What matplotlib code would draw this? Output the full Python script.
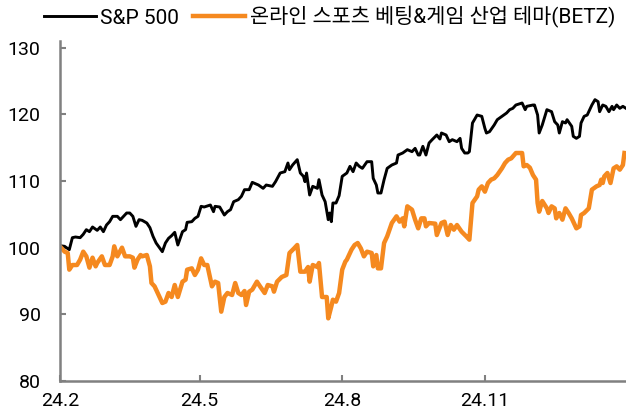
import datetime as dt
import matplotlib
matplotlib.use("Agg")
import matplotlib.pyplot as plt

# Index levels (start = 100), sampled by day offset from 2024-02-01
start = dt.date(2024, 2, 1)

sp_days = [0, 3, 6, 8, 10, 13, 15, 17, 19, 21, 24, 26, 28, 30, 32, 34, 37, 39, 41, 43,
           45, 47, 49, 51, 53, 56, 58, 60, 62, 66, 68, 70, 72, 74, 76, 79, 81, 82, 85, 87,
           89, 91, 93, 97, 99, 100, 103, 106, 108, 110, 112, 115, 117, 119, 122, 124, 128, 131, 133, 137,
           139, 142, 145, 147, 148, 150, 153, 155, 157, 158, 159, 161, 163, 166, 167, 169, 171, 173, 174, 175,
           176, 178, 180, 182, 185, 187, 189, 191, 193, 195, 198, 201, 202, 204, 205, 207, 209, 211, 214, 217,
           218, 221, 224, 227, 229, 231, 232, 234, 236, 238, 240, 243, 245, 246, 249, 251, 253, 256, 258, 259,
           261, 263, 264, 266, 269, 272, 274, 275, 277, 280, 282, 285, 288, 290, 292, 294, 298, 300, 301, 305,
           306, 308, 309, 311, 314, 317, 319, 321, 322, 324, 326, 327, 330, 331, 333, 335, 336, 338, 340, 343,
           345, 347, 348, 350, 352, 354, 356, 357, 359, 361, 363, 365]
sp500 = [100.3, 100.2, 99.7, 101.5, 101.6, 101.5, 102.0, 102.7, 102.4, 103.1, 102.6, 103.1, 102.4, 103.4, 103.9, 104.7, 104.7, 104.2, 104.7, 105.2,
         105.2, 104.7, 103.2, 104.2, 104.1, 103.7, 103.0, 101.7, 100.7, 99.4, 100.7, 101.4, 101.8, 102.3, 100.4, 102.4, 102.7, 103.8, 103.9, 104.4,
         104.7, 106.2, 106.1, 106.4, 105.4, 106.2, 106.1, 104.9, 105.4, 105.7, 106.9, 107.2, 107.7, 108.7, 108.7, 109.8, 109.4, 108.9, 109.4, 109.2,
         109.9, 111.2, 111.4, 112.7, 111.7, 112.4, 113.2, 111.2, 110.7, 109.9, 111.2, 107.9, 109.2, 108.9, 110.2, 107.9, 106.9, 104.2, 105.2, 103.9,
         106.7, 106.7, 107.8, 110.7, 111.2, 112.2, 111.4, 112.7, 112.2, 111.9, 112.9, 112.9, 110.4, 109.4, 108.2, 108.2, 110.2, 111.9, 112.4, 112.7,
         113.9, 114.2, 114.7, 114.4, 114.9, 113.9, 113.9, 115.2, 113.9, 115.7, 116.2, 116.9, 116.3, 117.2, 116.9, 115.9, 116.2, 115.9, 116.4, 114.9,
         114.2, 114.2, 114.4, 118.7, 119.9, 119.7, 117.9, 117.2, 117.4, 118.4, 119.2, 119.7, 120.2, 120.7, 120.9, 121.4, 121.7, 120.7, 121.2, 121.4,
         121.4, 119.9, 117.2, 118.4, 120.7, 120.4, 118.9, 118.4, 117.2, 118.9, 118.7, 119.2, 118.2, 116.7, 116.4, 116.7, 118.7, 119.7, 119.9, 121.4,
         122.2, 121.9, 120.4, 121.4, 121.2, 120.4, 121.2, 120.7, 121.4, 120.9, 121.2, 120.9]

betz_days = [0, 3, 5, 6, 8, 11, 13, 15, 17, 19, 21, 23, 24, 27, 29, 32, 34, 35, 37, 40,
             42, 45, 47, 48, 50, 52, 53, 56, 58, 59, 61, 62, 66, 68, 70, 72, 74, 76, 79, 81,
             82, 85, 87, 89, 91, 93, 95, 98, 100, 102, 104, 106, 108, 111, 113, 115, 117, 119, 120, 122,
             124, 127, 129, 132, 134, 137, 138, 140, 143, 146, 148, 151, 153, 155, 158, 160, 161, 163, 166, 167,
             169, 172, 173, 175, 176, 178, 180, 182, 184, 185, 188, 190, 192, 194, 196, 198, 201, 202, 204, 205,
             207, 209, 211, 214, 217, 219, 221, 222, 224, 227, 229, 231, 233, 235, 236, 238, 242, 243, 246, 248,
             250, 252, 254, 256, 259, 262, 264, 266, 269, 270, 272, 274, 276, 278, 280, 282, 285, 287, 289, 291,
             294, 298, 299, 301, 303, 305, 307, 308, 309, 311, 314, 315, 317, 319, 320, 322, 324, 326, 328, 330,
             333, 335, 336, 338, 341, 343, 346, 348, 349, 350, 351, 353, 355, 357, 359, 361, 363, 364]
betz = [100.2, 99.4, 99.2, 96.7, 97.4, 97.4, 98.2, 99.4, 98.7, 97.0, 98.5, 97.2, 97.7, 98.7, 97.4, 97.4, 98.7, 100.2, 98.7, 100.0,
        98.7, 98.7, 98.5, 97.0, 98.2, 98.9, 98.7, 98.9, 97.2, 94.7, 94.2, 93.7, 91.7, 91.9, 93.2, 92.6, 94.4, 92.6, 94.9, 95.2,
        96.7, 96.9, 95.9, 96.7, 98.4, 97.4, 97.4, 94.2, 94.9, 94.7, 90.4, 92.6, 93.2, 92.9, 94.7, 93.2, 92.9, 93.5, 91.4, 93.4,
        93.7, 94.9, 94.2, 93.2, 94.4, 94.2, 93.4, 94.9, 95.6, 95.9, 99.2, 99.9, 100.4, 96.4, 96.4, 97.1, 94.9, 97.4, 97.1, 97.7,
        92.6, 92.6, 89.4, 91.2, 92.2, 91.9, 93.2, 96.7, 97.9, 98.2, 99.7, 100.4, 100.7, 99.9, 98.7, 99.4, 99.2, 97.2, 98.9, 96.9,
        96.9, 100.7, 101.7, 103.7, 104.7, 103.9, 104.4, 103.2, 106.2, 105.7, 104.2, 102.9, 104.4, 104.4, 103.2, 103.7, 103.6, 101.9, 103.7, 103.9,
        101.9, 103.4, 102.7, 103.4, 102.4, 101.7, 101.2, 106.7, 107.7, 108.7, 109.2, 108.4, 109.7, 110.2, 110.4, 110.9, 111.9, 112.7, 113.2, 113.4,
        114.2, 114.2, 112.2, 112.4, 112.0, 110.9, 110.2, 106.7, 105.4, 107.0, 105.9, 105.2, 106.2, 105.9, 104.4, 105.2, 104.2, 105.9, 105.2, 104.4,
        102.9, 103.2, 104.9, 105.2, 105.9, 108.7, 109.2, 109.4, 110.2, 109.7, 110.7, 111.2, 109.7, 111.9, 112.2, 111.7, 112.4, 114.2]

x_ticks = ["2024-02-01", "2024-05-01", "2024-08-01", "2024-11-01"]
x_tick_labels = ["24.2", "24.5", "24.8", "24.11"]
y_ticks = [80, 90, 100, 110, 120, 130]

series_names = ["S&P 500", "온라인 스포츠 베팅&게임 산업 테마(BETZ)"]

plt.rcParams["font.family"] = ["Roboto", "Noto Sans CJK KR", "DejaVu Sans"]

to_date = lambda d: start + dt.timedelta(days=d)
sp_dates = [to_date(d) for d in sp_days]
betz_dates = [to_date(d) for d in betz_days]

fig = plt.figure(figsize=(6.26, 4.18), dpi=100)
ax = fig.add_axes([0.0958, 0.0885, 0.9042, 0.8134])

gray = "#808080"
ax.plot(sp_dates, sp500, color="black", lw=2.1, solid_joinstyle="round", label=series_names[0])
ax.plot(betz_dates, betz, color="#F5891F", lw=3.2, solid_joinstyle="round", label=series_names[1])

ax.set_xlim(start, to_date(365))
ax.set_ylim(80, 131)
ax.set_yticks(y_ticks)
ax.set_xticks([dt.date.fromisoformat(s) for s in x_ticks])
ax.set_xticklabels(x_tick_labels)

for s in ("top", "right"):
    ax.spines[s].set_visible(False)
for s in ("left", "bottom"):
    ax.spines[s].set_color(gray)
    ax.spines[s].set_linewidth(1.8)

ax.tick_params(axis="y", direction="in", length=4, width=1.5, color=gray,
               labelsize=14, pad=14, labelcolor="black")
ax.tick_params(axis="x", direction="in", length=4, width=1.5, color=gray,
               labelsize=14, pad=8, labelcolor="black")

fig.legend(loc="upper center", bbox_to_anchor=(0.526, 1.03), ncol=2, frameon=False,
           fontsize=15, handlelength=2.5, handletextpad=0.2, columnspacing=0.7)

fig.savefig("out.png", dpi=100)
